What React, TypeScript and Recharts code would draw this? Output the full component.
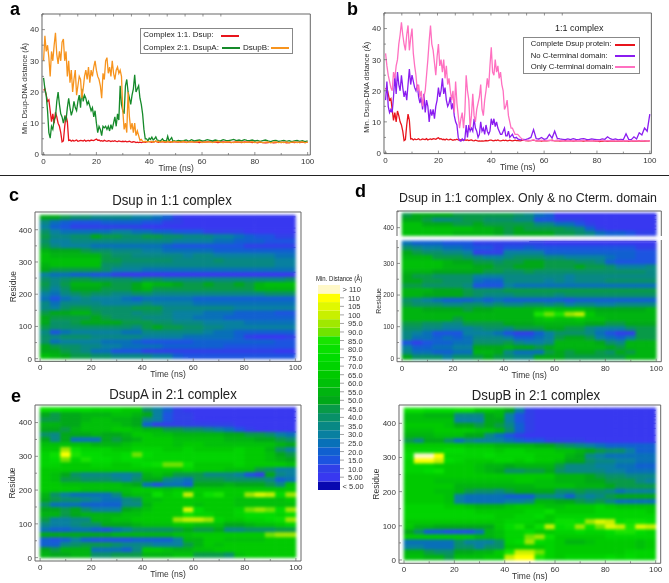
import React from 'react';
import {
  LineChart, Line, ScatterChart, Scatter, BarChart, Bar, XAxis, YAxis, ReferenceLine,
} from 'recharts';

const FONT = '"Liberation Sans", Arial, sans-serif';
const TEXT = '#333';
const FRAME = '#666';

const times = [
  0, 0.5, 1, 1.5, 2, 2.5, 3, 3.5, 4, 4.5, 5, 5.5, 6, 6.5, 7, 7.5, 8, 8.5, 9, 9.5,
  10, 10.5, 11, 11.5, 12, 12.5, 13, 13.5, 14, 14.5, 15, 15.5, 16, 16.5, 17, 17.5, 18, 18.5, 19, 19.5,
  20, 20.5, 21, 21.5, 22, 22.5, 23, 23.5, 24, 24.5, 25, 25.5, 26, 26.5, 27, 27.5, 28, 28.5, 29, 29.5,
  30, 30.5, 31, 31.5, 32, 32.5, 33, 33.5, 34, 34.5, 35, 35.5, 36, 36.5, 37, 37.5, 38, 38.5, 39, 39.5,
  40, 40.5, 41, 41.5, 42, 42.5, 43, 43.5, 44, 44.5, 45, 45.5, 46, 46.5, 47, 47.5, 48, 48.5, 49, 49.5,
  50, 51, 52, 53, 54, 55, 56, 57, 58, 59, 60, 61, 62, 63, 64, 65, 66, 67, 68, 69,
  70, 71, 72, 73, 74, 75, 76, 77, 78, 79, 80, 81, 82, 83, 84, 85, 86, 87, 88, 89,
  90, 91, 92, 93, 94, 95, 96, 97, 98, 99, 100,
];

const dsupRed = [
  20.5, 21, 19, 17, 17.5, 14, 10.5, 13, 10, 13.5, 12, 10, 9, 7, 4, 4.3, 9, 12.5, 10.5, 4.5,
  4.6, 4.2, 4.5, 4.3, 4.4, 4.6, 4.2, 4.3, 4.5, 4.4, 4.3, 4.6, 4.2, 4.4, 4.5, 4.3, 4.6, 4.5, 4.4, 4.7,
  4.9, 4.5, 4.6, 4.3, 4.4, 4.2, 4.5, 4.3, 4.2, 4.4, 4.3, 4.1, 4.3, 4.2, 4.4, 4.2, 4.1, 4.3, 4.2, 4.1,
  4.2, 4.1, 4.2, 4, 4.1, 4.2, 4, 3.9, 4.1, 4, 3.8, 3.9, 3.8, 3.9, 3.8, 3.9, 4, 3.9, 4, 4.1,
  4.1, 4, 3.9, 4.1, 4, 4.2, 4, 3.9, 4, 4.1, 4, 4.1, 3.9, 4, 4.1, 4, 3.9, 4, 4.1, 4,
  4, 3.9, 4.1, 4, 3.9, 4, 4.1, 3.9, 4, 3.8, 4, 3.9, 4, 4.1, 3.9, 4, 3.8, 3.9, 4, 3.9,
  4, 3.8, 3.9, 4, 3.9, 3.8, 4, 3.9, 4, 3.8, 3.9, 3.7, 3.9, 3.8, 3.7, 3.8, 3.9, 3.7, 3.8, 3.9,
  3.8, 3.9, 3.7, 3.8, 3.9, 3.8, 3.9, 3.8, 3.9, 3.8, 3.9,
];
const dsupAGreen = [
  24.5, 21, 19, 14, 7, 5.2, 9, 8, 11, 12, 17, 20, 16, 13, 12, 10, 12, 11, 15, 18,
  15, 12.5, 14, 17, 15, 14, 17, 19, 15, 21, 17, 19, 18, 16, 17, 15.5, 14, 15, 12, 14,
  10, 7, 9, 8, 6, 9, 8.5, 9, 8, 9, 7.5, 9.5, 8, 10, 12, 9, 13, 11, 22, 16,
  14, 13, 22, 24, 20, 18, 16, 19, 21, 25.5, 20, 21, 22, 18, 16, 13, 8, 5, 5, 4.3,
  5.2, 4.8, 5.5, 4.6, 5, 5.6, 4.6, 4.5, 4.2, 4.5, 5, 4.4, 4.4, 4.2, 5.8, 4.3, 4.8, 5.4, 4.2, 4.4,
  4.2, 4.5, 4.3, 4.4, 4.6, 4.2, 4.7, 4.3, 4.5, 4.6, 4.3, 4.4, 4.7, 4.5, 4.3, 4.6, 4.4, 4.3, 4.7, 4.5,
  4.4, 4.6, 4.8, 4.4, 4.6, 4.3, 4.7, 4.5, 4.4, 4.6, 4.3, 4.5, 4.2, 4.4, 4.6, 4.3, 4.1, 4.4, 4.5, 4.2,
  4.3, 4.5, 4.2, 4.4, 4.1, 4.3, 4.5, 4.2, 4.4, 4.1, 4.3,
];
const dsupBOrange = [
  30, 38, 33, 35, 31, 25, 33, 30, 35, 39, 32, 29, 33, 30, 36, 37, 30, 33, 25, 30,
  23, 27, 20, 24, 27, 19, 22, 25, 24, 18, 21, 25, 27, 24, 28, 23, 27, 25, 28, 30,
  27, 25, 24, 22, 18, 26, 24, 30, 31, 26, 28, 25, 30, 26, 24, 27, 28, 26, 27, 25,
  14, 8, 10, 7, 20, 12, 8, 10, 7, 10, 6, 7.5, 6, 4.5, 4.8, 4.2, 4, 4.2, 4, 4.1,
  4.1, 4, 4.2, 3.9, 4.1, 4.3, 4, 4.2, 3.9, 4, 4.2, 4, 4.1, 3.9, 4.2, 4, 4.1, 3.9, 4, 4.2,
  4, 4.1, 3.9, 4.2, 3.8, 4, 4.1, 3.9, 4, 4.2, 3.8, 4, 3.9, 4.1, 3.8, 4, 4.2, 3.9, 3.8, 4,
  4.1, 3.9, 3.8, 4.1, 3.9, 4, 3.8, 4, 3.9, 4.1, 3.8, 3.9, 4, 3.8, 3.9, 4, 3.7, 3.9, 4, 3.8,
  3.9, 3.8, 4, 3.7, 3.9, 4, 3.8, 3.9, 4, 3.8, 3.9,
];
const noCtermPurple = [
  17, 23, 15, 13, 14, 13, 18, 25, 19, 26, 22, 20, 25, 21, 18, 20, 17, 22, 27, 22,
  25, 23, 21, 20, 22, 18, 16, 18, 14, 19, 13, 17, 15, 10, 14, 12, 14, 11, 15, 17,
  21, 18, 20, 24, 19, 21, 17, 15, 16, 18, 14, 16, 12, 10, 9, 5, 4, 3.8, 4.5, 4,
  4.5, 9, 5, 9, 7, 8, 7, 11, 8, 7, 5, 6, 10, 7, 8, 6, 9, 7, 6, 7,
  11, 9, 11, 8.5, 10, 8, 7, 6, 6, 7, 8, 5.5, 5.5, 7, 5, 5.5, 6, 5, 4.8, 5,
  4.5, 4.2, 4.4, 4.3, 4.6, 5, 7.5, 4.6, 4.5, 5, 4.4, 4.6, 6, 4.8, 7, 4.7, 4.5, 4.4, 4.3, 4.5,
  4.3, 4.6, 4.4, 4.3, 4.5, 4.6, 4.4, 4.3, 4.5, 4.4, 4.3, 4.2, 4.5, 4.4, 5.2, 4.6, 4.3, 4.5, 4.2, 4.4,
  4.3, 6.2, 4.4, 4.3, 5.2, 4.5, 6.5, 5.8, 8, 7, 12.5,
];
const onlyCtermPink = [
  32, 28, 25, 23, 21, 20, 26, 24, 28, 30, 35, 38, 42, 38, 35, 33, 38, 41, 33, 37,
  40, 32, 28, 25, 20, 22, 18, 20, 15, 18, 20, 25, 30, 36, 41, 35, 33, 29, 25, 31,
  35, 28, 30, 26, 30, 24, 28, 22, 24, 20, 17, 20, 13, 23, 16, 12, 8, 11, 13, 8,
  13, 25, 20, 17, 8, 12, 19, 12, 10, 14, 16, 18, 22, 14, 12, 17, 20, 24, 21, 28,
  34, 26, 25, 30, 26, 28, 24, 26, 22, 20, 14, 15, 17, 12, 10, 8, 8, 7, 6, 6,
  6, 5, 4.2, 4, 4.1, 4, 4.2, 3.9, 4, 4.1, 3.9, 4, 4.1, 3.9, 4, 4.1, 3.9, 4, 3.8, 4,
  3.9, 4, 3.8, 4, 3.9, 4.1, 3.8, 3.9, 4, 3.8, 4, 3.9, 4.1, 3.8, 4, 3.9, 4, 3.8, 3.9, 4,
  3.8, 4, 3.9, 3.8, 4, 3.9, 3.8, 4, 3.9, 3.8, 4,
];

// colour bar, bottom to top
const levelLabels = [
  '< 5.00', '5.00', '10.0', '15.0', '20.0', '25.0', '30.0', '35.0', '40.0', '45.0', '50.0', '55.0',
  '60.0', '65.0', '70.0', '75.0', '80.0', '85.0', '90.0', '95.0', '100', '105', '110', '> 110',
];
const levelColors = [
  '#0808b0', '#3838f0', '#3040e8', '#1c54e0', '#1060d0', '#0870b8', '#0880a0', '#088884',
  '#089068', '#089a48', '#00a818', '#00b410', '#00c008', '#00ca00', '#00d400', '#00dc00',
  '#08e000', '#18e400', '#70e400', '#a0e800', '#c8f000', '#e0f800', '#ffff00', '#fff8c8',
];
const levelKeys = '0123456789abcdefghijklmn';

// heat maps: one row per residue band (top row first), one char per 4 ns, grouped per 20 ns
const heatC = [
  'aa988 77776 65421 11111 11111',
  '75433 34444 33221 11111 11111',
  '64322 22222 11111 11111 11111',
  '86555 55665 54433 32222 11111',
  '97788 a9988 99887 77665 43322',
  '86677 77777 77766 66554 44333',
  '97666 55555 55433 33333 22222',
  'baaa9 88777 66555 55444 44444',
  'cbbbb b9887 77776 77666 66655',
  'ccccc c9988 88877 77877 77766',
  'bcccc c8877 77777 77777 77766',
  'a9999 98666 55555 55555 55555',
  '65544 33211 11111 11111 11111',
  '87899 88887 88777 77777 77778',
  '979bb ba99a cbba9 9a99a 9bccc',
  '868aa a999a b9999 99999 9bbbb',
  '65789 88778 87777 77777 77888',
  '53567 66654 55555 44444 44444',
  '75777 76666 76666 55555 55555',
  '76899 88889 99777 77776 66666',
  '9aabb 98887 88766 65554 44433',
  'a9999 a9888 77766 55544 44444',
  'a889a aaa99 98877 76666 55555',
  '98888 88887 9a998 87766 66666',
  '73566 66655 77777 76554 44444',
  '87888 77777 66665 55554 21112',
  '85666 65554 33333 44444 44433',
  'a9887 76655 55444 44433 33333',
  'aa987 55333 22222 22222 22211',
  'cba99 88777 76643 33333 33333',
];
const heatDTop = [
  '9aaaa 99999 98754 11111 11111',
  'aa977 89988 87733 22211 11111',
  'ccaaa 99a99 99977 55321 11111',
  'ccccc ccbba 9a999 98742 11111',
  'ccccc bbbba 9aaaa 99875 44322',
];
const heatDBottom = [
  '54443 33222 22221 11111 11111',
  '87665 54332 33433 33333 33322',
  'a9887 76222 66664 44444 44433',
  'bbb99 98766 78887 76666 54433',
  'ccccb aa998 99aa9 99887 43333',
  'ccccb bbaa9 9aaa9 99a99 86667',
  'bbbaa aaa99 88988 88888 88887',
  'a9988 88666 77777 76777 77777',
  'aa998 88544 77776 76777 88888',
  '99888 87333 65555 55555 55555',
  'bbbaa a9888 99999 99999 99999',
  'bbaaa a9877 78888 78888 88888',
  '87654 44545 44444 43444 44444',
  '98887 78878 77887 86776 67777',
  'bbaaa a9aab bbbcd cccba aaaab',
  'bbbbb bbbbb bbbhi hjkdb bbbbb',
  'bbbbb 9bbbb bbbcd ccdcc bbbbb',
  '99887 79999 aaabb bbbaa 99aaa',
  '88776 66788 7999a a9976 66899',
  '76533 36665 32246 88875 32299',
  '75545 45777 64456 9aa96 54699',
  '32344 55888 97667 bbbba 87bbb',
  '64455 66aaa baa9a bbbbb a9bbb',
  '75544 55bba 75559 a9aa9 8a9bb',
  'a8886 889a9 877aa a9999 99bbb',
];
const heatE = [
  'ggfff eeedd 86421 11111 11111',
  'a9aab bbccb a6322 11111 11111',
  '99aab ccbba 76322 11111 11111',
  'bbaac cccba 42222 22221 11111',
  'aa9bc ccddc bb998 87653 21111',
  '87aaa baabd dccbb bbbaa 99865',
  'a7a55 5a9ab dddcc cccbb baa98',
  'ccccc bbbcd dddcd dcccc cccba',
  'ddjge eedde eedde dddde ddb86',
  'egmhf feefi feeee eeeee ddca9',
  'efieh ffeff eeeee eeeee ddcba',
  'eeddd eedde fgiig dddde ddddc',
  'ddddd ddddd dddde dddcc c9866',
  'dca87 77667 bcb99 97776 32a76',
  'dc998 88768 aa765 99988 88745',
  'ddccc cccba 53554 aaaba aa97c',
  'ddddc ccccd ddcdc ddddd ddddd',
  'b8655 557bc cgdek dghdd jlkfj',
  'a9887 65578 ccddd ddddc ccccd',
  '85554 44477 bdddd cdddc ccccc',
  'aa9a8 666ab cdddl fddde ijifj',
  'bb9ab bbbcc ddddg eedde fffef',
  '96677 bbccd dddjk kjedd eefgj',
  '76678 8aaab cccdd cccaa bccde',
  '54455 43568 8889a 99a77 88899',
  'aaaaa aabbb bbbcc ddddd ddijj',
  '43464 33334 4446b bddcc ccddd',
  '44789 99877 76669 bdcdd ddddd',
  'a9bbb 55547 ddcbb ccddd ddddd',
  'baabb 88999 bbbcc 9998c ddddd',
];
const heatF = [
  'ggfff ggddc a6211 11111 11111',
  'ccbbb 777ab 63211 11111 11111',
  'ccccc 666aa 63211 11111 11111',
  'ddddc aa9a9 74211 11111 11111',
  'cccdd ddccb 84211 11111 11111',
  'bbbcc caa75 32111 11111 11111',
  '97aa8 57666 54332 22211 11111',
  'ddddd dcccb bbbaa 98765 44444',
  'eeeef feeed eeddd ccba9 88644',
  'fnnme eeefe eeedd dba76 55555',
  'emmkf eddde ededd caa87 76655',
  'eeedd ddcbb abbbb 97776 65544',
  'eefgd ddcba 8899a 87777 66555',
  'ddddd ddddd ddddd bbba9 88777',
  'dddcc ccccc cddcc bbbaa 99976',
  'ddddd bbbbb bbbcc ccbbb a9999',
  'dddcc b9887 9aaaa 88988 75666',
  'ddddc 65555 44477 64767 9aaaa',
  'ddddc 65555 667bb aa989 75555',
  'eeeed dcbbb cdddc cddde dcccc',
  'eeeee eeddd ddeeg dddde eeeed',
  'eeeee eeeed deefd eeeee eeeee',
  'ddddd ddddd eeedd ggfjl kfggf',
  'dbbaa aaaad fhdgk fgjgi lkhlk',
  'a8443 335bc eefdd eefee fhhfe',
  'ddddd ddbbc eeijg ddddd eeeee',
  '55555 86668 efjfe dbbcd dddcd',
  '66555 88688 dddde ddddd dddcd',
  'bb988 aabbd hkkie ddddd ddeee',
  'ccbb9 cccdd kmmhe deeee fefee',
];

// dark contact stripes: [residue, from ns, to ns]
const stripesC = [[440, 48, 100], [405, 10, 100], [392, 70, 100], [345, 38, 100], [268, 30, 100], [67, 78, 100], [40, 34, 40], [15, 20, 100], [5, 58, 80]];
const stripesDTop = [[438, 52, 100], [425, 75, 100], [418, 68, 100], [405, 70, 100], [395, 85, 100]];
const stripesDBottom = [[369, 50, 100], [340, 28, 32], [342, 58, 62]];
const stripesE = [[432, 55, 100], [415, 65, 100], [405, 75, 100], [372, 80, 100]];
const stripesF = [[438, 42, 100], [425, 70, 100], [420, 50, 100], [410, 68, 100], [400, 70, 100], [385, 40, 100], [365, 32, 100], [345, 70, 100]];

const timeTicks = [0, 10, 20, 30, 40, 50, 60, 70, 80, 90, 100];
const distanceTicks = [0, 5, 10, 15, 20, 25, 30, 35, 40, 45];
const residueTicks = [0, 50, 100, 150, 200, 250, 300, 350, 400];
const residueTicksDTop = [400, 450];
const residueTicksDBottom = [0, 50, 100, 150, 200, 250, 300, 350];

const bottomTick = (major: number, size: number) => ({ x, y, payload }: any) => {
  const isMajor = payload.value % major === 0;
  return (
    <g>
      <line x1={x} x2={x} y1={y} y2={y - (isMajor ? 3 : 2)} stroke={FRAME} strokeWidth={0.7} />
      {isMajor && <text x={x} y={y + size + 1} textAnchor="middle" fontSize={size} fill={TEXT}>{payload.value}</text>}
    </g>
  );
};
const topTick = () => ({ x, y }: any) => <line x1={x} x2={x} y1={y} y2={y + 2.5} stroke={FRAME} strokeWidth={0.7} />;
const rightTick = () => ({ x, y }: any) => <line x1={x} x2={x - 2.5} y1={y} y2={y} stroke={FRAME} strokeWidth={0.7} />;
const leftTick = (major: number, size: number) => ({ x, y, payload }: any) => {
  const isMajor = payload.value % major === 0;
  return (
    <g>
      <line x1={x} x2={x + (isMajor ? 3 : 2)} y1={y} y2={y} stroke={FRAME} strokeWidth={0.7} />
      {isMajor && <text x={x - 3} y={y + size * 0.36} textAnchor="end" fontSize={size} fill={TEXT}>{payload.value}</text>}
    </g>
  );
};

type Box = { x: number; y: number; w: number; h: number };

const GUTTER_L = 36;
const GUTTER_B = 24;
const GUTTER_T = 4;
const GUTTER_R = 6;

const chartStyle = (box: Box): React.CSSProperties => ({ position: 'absolute', left: box.x - GUTTER_L, top: box.y - GUTTER_T });
const chartSize = (box: Box) => ({
  width: box.w + GUTTER_L + GUTTER_R,
  height: box.h + GUTTER_T + GUTTER_B,
  margin: { top: GUTTER_T - 1, right: GUTTER_R - 1, bottom: 0, left: 0 },
});

const axes = (o: {
  xDomain: number[]; yDomain: number[]; yTicks: number[]; yMajor: number; tickSize: number; xTickSize?: number; yKey?: string;
  yLabel?: string; yLabelOffset?: number; yLabelShift?: number; labelSize?: number; noXTicks?: boolean; noTop?: boolean; noBottom?: boolean;
}) => {
  const line = { stroke: FRAME, strokeWidth: 1 };
  return (
    <>
      <XAxis type="number" dataKey="t" domain={o.xDomain} ticks={o.noXTicks ? [] : timeTicks} interval={0} height={GUTTER_B}
        tick={bottomTick(20, o.xTickSize ?? o.tickSize)} tickLine={false} tickSize={0} tickMargin={0}
        axisLine={o.noBottom ? false : line}
        label={o.noXTicks ? undefined : { value: 'Time (ns)', position: 'insideBottom', offset: 8, fontSize: 8.5, fill: TEXT }} />
      <XAxis xAxisId="top" orientation="top" type="number" domain={o.xDomain} ticks={o.noTop ? [] : timeTicks} interval={0} height={1}
        tick={topTick()} tickLine={false} tickSize={0} tickMargin={0} axisLine={o.noTop ? false : line} />
      <YAxis type="number" dataKey={o.yKey} domain={o.yDomain} ticks={o.yTicks} interval={0} width={GUTTER_L}
        tick={leftTick(o.yMajor, o.tickSize)} tickLine={false} tickSize={0} tickMargin={0} axisLine={line}
        label={o.yLabel ? { value: o.yLabel, angle: -90, position: 'insideLeft', offset: o.yLabelOffset ?? 14, dy: o.yLabelShift ?? 0, fontSize: o.labelSize ?? 8.5, fill: TEXT, style: { textAnchor: 'middle' } } : undefined} />
      <YAxis yAxisId="right" orientation="right" type="number" domain={o.yDomain} ticks={o.yTicks} interval={0} width={1}
        tick={rightTick()} tickLine={false} tickSize={0} tickMargin={0} axisLine={line} />
    </>
  );
};

const heatCells = (rows: string[], topResidue: number, step: number) =>
  rows.flatMap((row, r) =>
    row.replace(/ /g, '').split('').map((c, i) => ({
      t: i * 4 + 2,
      res: topResidue - (r + 0.5) * step,
      level: levelKeys.indexOf(c),
    })));

const Heat: React.FC<{
  box: Box; rows: string[]; top: number; step: number; stripes: number[][];
  xDomain: number[]; yDomain: number[]; yTicks: number[]; yMajor?: number; tickSize?: number; xTickSize?: number;
  yLabel?: string; yLabelOffset?: number; labelSize?: number; noXTicks?: boolean; noTop?: boolean; noBottom?: boolean;
}> = ({ box, rows, top, step, stripes, xDomain, yDomain, yTicks, yMajor = 100, tickSize = 8, ...rest }) => {
  const w = (box.w / (xDomain[1] - xDomain[0])) * 4;
  const h = (box.h / (yDomain[1] - yDomain[0])) * step;
  const cell = ({ cx, cy, payload }: any) => (
    <rect x={cx - w / 2 - 0.3} y={cy - h / 2 - 0.3} width={w + 0.6} height={h + 0.6} fill={levelColors[payload.level]} />
  );
  return (
    <div style={chartStyle(box)} className="heat">
      <ScatterChart {...chartSize(box)}>
        {axes({ xDomain, yDomain, yTicks, yMajor, tickSize, yKey: 'res', ...rest })}
        <Scatter data={heatCells(rows, top, step)} shape={cell} isAnimationActive={false} />
        {stripes.map(([res, from, to], i) => (
          <ReferenceLine key={i} segment={[{ x: from, y: res }, { x: to, y: res }]} stroke="#0808a0" strokeWidth={0.8} strokeOpacity={0.75} />
        ))}
      </ScatterChart>
    </div>
  );
};

const boxA: Box = { x: 41.7, y: 14, w: 268.3, h: 141 };
const boxB: Box = { x: 384.3, y: 12.7, w: 267.4, h: 140.6 };
const boxC: Box = { x: 35, y: 212.3, w: 266, h: 149.4 };
const boxDTop: Box = { x: 396.7, y: 211, w: 264.3, h: 25 };
const boxDBottom: Box = { x: 396.7, y: 240, w: 264.3, h: 121.7 };
const boxE: Box = { x: 35, y: 405, w: 266, h: 156 };
const boxF: Box = { x: 399.3, y: 405, w: 261.7, h: 158.3 };

const panelData = times.map((t, i) => ({
  t,
  red: dsupRed[i],
  green: dsupAGreen[i],
  orange: dsupBOrange[i],
  purple: noCtermPurple[i],
  pink: onlyCtermPink[i],
}));

const DistancePanel: React.FC<{ box: Box; series: [string, string][]; xDomain: number[] }> = ({ box, series, xDomain }) => (
  <div style={chartStyle(box)}>
    <LineChart {...chartSize(box)} data={panelData}>
      {axes({ xDomain, yDomain: [-0.2, 45], yTicks: distanceTicks, yMajor: 10, tickSize: 8, yLabel: 'Min. Dsup-DNA distance (Å)', yLabelOffset: 18, yLabelShift: 4, labelSize: 7.3 })}
      {series.map(([key, color]) => (
        <Line key={key} dataKey={key} stroke={color} strokeWidth={1.3} dot={false} isAnimationActive={false} />
      ))}
    </LineChart>
  </div>
);

const barRow = [{ name: 'range', ...Object.fromEntries(levelLabels.map((_, i) => [`l${i}`, 1])) }];
const barTicks = levelLabels.map((_, i) => i + 0.5);
const barTick = ({ x, y, payload }: any) => {
  const label = levelLabels[payload.value - 0.5];
  const wide = label.length > 5 || label.startsWith('>');
  return (
    <g>
      {!wide && <line x1={x} x2={x + 4} y1={y} y2={y} stroke={FRAME} strokeWidth={0.6} />}
      <text x={x + (wide ? 2.5 : 8)} y={y + 3} fontSize={7.5} fill={TEXT}>{label}</text>
    </g>
  );
};

const ColorBar = () => (
  <div style={{ position: 'absolute', left: 318.3, top: 285 }}>
    <BarChart width={52} height={205} data={barRow} margin={{ top: 0, right: 0, bottom: 0, left: 0 }} barCategoryGap={0}>
      <XAxis hide dataKey="name" />
      <YAxis orientation="right" type="number" domain={[0, 24]} ticks={barTicks} interval={0} width={30}
        tick={barTick} tickLine={false} tickSize={0} tickMargin={0} axisLine={false} />
      {levelLabels.map((_, i) => (
        <Bar key={i} dataKey={`l${i}`} stackId="s" fill={levelColors[i]} isAnimationActive={false} />
      ))}
    </BarChart>
  </div>
);

const text = (left: number, top: number, size: number, content: string, extra: React.CSSProperties = {}) => (
  <div style={{ position: 'absolute', left, top, fontSize: size, lineHeight: 1, whiteSpace: 'nowrap', color: '#222', ...extra }}>{content}</div>
);
const swatch = (left: number, top: number, width: number, color: string) => (
  <div style={{ position: 'absolute', left, top, width, height: 2, background: color }} />
);
const legendBox = (left: number, top: number, width: number, height: number) => (
  <div style={{ position: 'absolute', left, top, width, height, background: '#fff', border: '1px solid #888', boxSizing: 'border-box' }} />
);
const title = (cx: number, top: number, content: string, size = 14.5) =>
  text(cx - 150, top, size, content, { width: 300, textAlign: 'center', transform: 'scaleX(0.91)' });

export default function App() {
  return (
    <div style={{ position: 'absolute', left: 0, top: 0, width: 669, height: 583, background: '#fff', overflow: 'hidden', fontFamily: FONT, filter: 'blur(0.35px)' }}>
      <style>{`.heat .recharts-scatter { filter: blur(1.5px); } svg text { font-family: ${FONT}; }`}</style>

      <DistancePanel box={boxA} xDomain={[-0.6, 101]} series={[['red', '#e8141c'], ['green', '#158a2a'], ['orange', '#f7941e']]} />
      <DistancePanel box={boxB} xDomain={[-0.6, 100.6]} series={[['red', '#e8141c'], ['purple', '#8a1cf0'], ['pink', '#ff70c0']]} />

      {legendBox(140, 28, 153, 26)}
      {text(143.3, 31.3, 8, 'Complex 1:1. Dsup:')}
      {swatch(221, 35, 18, '#e8141c')}
      {text(143.3, 43.5, 8, 'Complex 2:1. DsupA:')}
      {swatch(222, 47, 18, '#158a2a')}
      {text(243, 43.5, 8, 'DsupB:')}
      {swatch(271, 47, 18, '#f7941e')}

      {text(555, 23.5, 9, '1:1 complex')}
      {legendBox(523, 36.7, 117, 37.5)}
      {text(530.7, 40.2, 7.7, 'Complete Dsup protein:')}
      {swatch(615, 44, 20, '#e8141c')}
      {text(530.7, 51.8, 7.7, 'No C-terminal domain:')}
      {swatch(615, 55, 20, '#8a1cf0')}
      {text(530.7, 62.8, 7.7, 'Only C-terminal domain:')}
      {swatch(615, 66, 20, '#ff70c0')}

      {text(10, 0, 18, 'a', { fontWeight: 700, color: '#000' })}
      {text(347, 0, 18, 'b', { fontWeight: 700, color: '#000' })}
      {text(9, 186, 18, 'c', { fontWeight: 700, color: '#000' })}
      {text(355, 182, 18, 'd', { fontWeight: 700, color: '#000' })}
      {text(11, 387, 18, 'e', { fontWeight: 700, color: '#000' })}

      <div style={{ position: 'absolute', left: 0, top: 175, width: 669, height: 1, background: '#222' }} />

      {title(172, 193, 'Dsup in 1:1 complex')}
      {title(528, 191, 'Dsup in 1:1 complex. Only & no Cterm. domain', 13.6)}
      {title(173, 387, 'DsupA in 2:1 complex')}
      {title(536, 388, 'DsupB in 2:1 complex')}

      <Heat box={boxC} rows={heatC} top={445} step={14.83} stripes={stripesC} xDomain={[-2, 102.2]} yDomain={[-8.4, 455]} yTicks={residueTicks} yLabel="Residue" yLabelOffset={14} />
      <Heat box={boxDTop} rows={heatDTop} top={445} step={14} stripes={stripesDTop} xDomain={[-2, 102]} yDomain={[374, 452]} yTicks={residueTicksDTop} tickSize={6.5} noXTicks noBottom />
      <Heat box={boxDBottom} rows={heatDBottom} top={371} step={15} stripes={stripesDBottom} xDomain={[-2, 102]} yDomain={[-10.7, 374]} yTicks={residueTicksDBottom} yLabel="Residue" yLabelOffset={18} labelSize={7} tickSize={6.5} xTickSize={8} noTop />
      <Heat box={boxE} rows={heatE} top={445} step={14.83} stripes={stripesE} xDomain={[-2, 102]} yDomain={[-10, 452]} yTicks={residueTicks} yLabel="Residue" yLabelOffset={13} />
      <Heat box={boxF} rows={heatF} top={445} step={14.83} stripes={stripesF} xDomain={[-2, 102]} yDomain={[-9.7, 453.6]} yTicks={residueTicks} yLabel="Residue" yLabelOffset={13} />

      {text(316, 274.5, 7, 'Min. Distance (Å)', { transform: 'scaleX(0.86)', transformOrigin: 'left' })}
      <ColorBar />
    </div>
  );
}
